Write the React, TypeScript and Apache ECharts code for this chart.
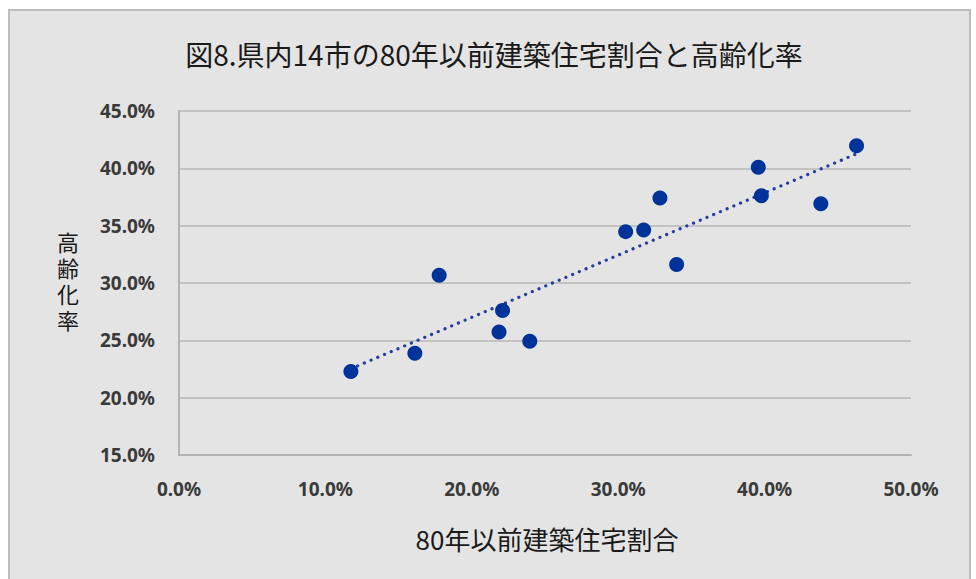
import React, { useEffect, useRef } from "react";
import * as echarts from "echarts";

const chartTitle = "図8.県内14市の80年以前建築住宅割合と高齢化率";
const xAxisTitle = "80年以前建築住宅割合";
const yAxisTitle = "高齢化率";

// 80年以前建築住宅割合 (%)
const oldHousingShare = [11.74, 16.11, 17.77, 22.1, 21.86, 23.96, 30.51, 31.74, 32.85, 33.99, 39.57, 39.78, 43.84, 46.28];
// 高齢化率 (%)
const agingRate = [22.28, 23.87, 30.68, 27.61, 25.72, 24.91, 34.48, 34.63, 37.41, 31.61, 40.1, 37.61, 36.91, 41.96];

const xMin = 0;
const xMax = 50;
const xStep = 10;
const yMin = 15;
const yMax = 45;
const yStep = 5;

function linearTrend(xs: number[], ys: number[]) {
  const n = xs.length;
  const mx = xs.reduce((a, b) => a + b, 0) / n;
  const my = ys.reduce((a, b) => a + b, 0) / n;
  let sxy = 0;
  let sxx = 0;
  for (let i = 0; i < n; i++) {
    sxy += (xs[i] - mx) * (ys[i] - my);
    sxx += (xs[i] - mx) * (xs[i] - mx);
  }
  const slope = sxy / sxx;
  const icpt = my - slope * mx;
  const x0 = Math.min(...xs);
  const x1 = Math.max(...xs);
  return [
    [x0, icpt + slope * x0],
    [x1, icpt + slope * x1],
  ];
}

const CJK = '"Noto Sans CJK JP", "Noto Sans", sans-serif';
const CJK_TIGHT = '"Liberation Sans", "Noto Sans CJK JP", sans-serif';
const LAT = '"Noto Sans", "DejaVu Sans", sans-serif';

export default function App() {
  const ref = useRef<HTMLDivElement>(null);

  useEffect(() => {
    if (!ref.current) return;
    const chart = echarts.init(ref.current, undefined, { renderer: "svg" });
    const points = oldHousingShare.map((x, i) => [x, agingRate[i]]);
    const trend = linearTrend(oldHousingShare, agingRate);
    const pct = (v: number) => v.toFixed(1) + "%";

    const yTitleChars = yAxisTitle.split("").map((ch, i) => ({
      type: "text",
      x: 68,
      y: 243 + i * 26,
      style: {
        text: ch,
        font: `normal 22px ${CJK_TIGHT}`,
        fill: "#1a1a1a",
        align: "center",
        verticalAlign: "middle",
      },
    }));

    chart.setOption({
      animation: false,
      backgroundColor: "#ffffff",
      graphic: [
        {
          type: "rect",
          z: -10,
          shape: { x: 9, y: 10, width: 961, height: 580 },
          style: { fill: "#e4e4e4", stroke: "#bdbdbd", lineWidth: 2 },
        },
        {
          type: "text",
          x: 494,
          y: 54,
          style: {
            text: chartTitle,
            font: `normal 28px ${CJK}`,
            fill: "#1a1a1a",
            align: "center",
            verticalAlign: "middle",
          },
        },
        {
          type: "text",
          x: 547,
          y: 538,
          style: {
            text: xAxisTitle,
            font: `normal 26px ${CJK}`,
            fill: "#1a1a1a",
            align: "center",
            verticalAlign: "middle",
          },
        },
        ...yTitleChars,
      ],
      grid: { left: 179, right: 65, top: 111, bottom: 124, containLabel: false },
      xAxis: {
        type: "value",
        min: xMin,
        max: xMax,
        interval: xStep,
        axisLine: { show: true, lineStyle: { color: "#b3b3b3", width: 2 } },
        axisTick: { show: false },
        splitLine: { show: false },
        axisLabel: {
          formatter: pct,
          margin: 24,
          fontSize: 19,
          fontWeight: "bold",
          fontFamily: LAT,
          color: "#3a3a3a",
        },
      },
      yAxis: {
        type: "value",
        min: yMin,
        max: yMax,
        interval: yStep,
        axisLine: { show: true, lineStyle: { color: "#b3b3b3", width: 2 } },
        axisTick: { show: false },
        splitLine: { show: true, lineStyle: { color: "#c2c2c2", width: 2 } },
        axisLabel: {
          formatter: pct,
          margin: 24,
          fontSize: 19,
          fontWeight: "bold",
          fontFamily: LAT,
          color: "#3a3a3a",
        },
      },
      series: [
        {
          type: "line",
          data: trend,
          showSymbol: false,
          symbol: "none",
          silent: true,
          z: 3,
          lineStyle: { color: "#23409a", width: 3.2, type: [0.1, 7.2], cap: "round" },
        },
        {
          type: "scatter",
          data: points,
          symbol: "circle",
          symbolSize: 15,
          z: 4,
          itemStyle: { color: "#003399", opacity: 1 },
        },
      ],
    });
    return () => chart.dispose();
  }, []);

  return (
    <div
      ref={ref}
      style={{ position: "fixed", left: 0, top: 0, width: 976, height: 579 }}
    />
  );
}
